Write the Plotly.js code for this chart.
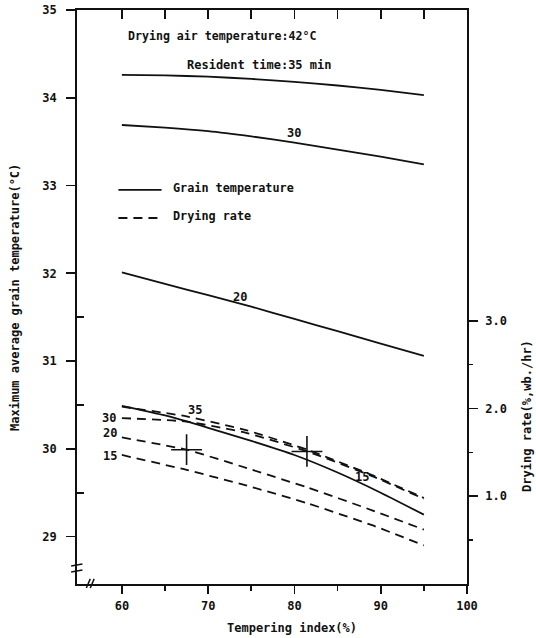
<!DOCTYPE html>
<html>
<head>
<meta charset="utf-8">
<script src="https://cdn.plot.ly/plotly-3.0.1.min.js"></script>
<style>html,body{margin:0;padding:0;background:#fff;}#chart{width:536px;height:638px;}</style>
</head>
<body>
<div id="chart"></div>
<script>
// Tempering index (%) for grain temperature curves
const tempIndex = [60, 65, 70, 75, 80, 85, 90, 95];
// Maximum average grain temperature (°C), by resident time (min)
const gt35 = [34.26, 34.255, 34.24, 34.215, 34.18, 34.14, 34.09, 34.03];
const gt30 = [33.69, 33.66, 33.62, 33.56, 33.49, 33.41, 33.33, 33.24];
const gt20 = [32.01, 31.88, 31.75, 31.62, 31.48, 31.34, 31.20, 31.06];
const gt15 = [30.49, 30.38, 30.24, 30.09, 29.93, 29.73, 29.50, 29.25];

// Tempering index (%) for drying rate curves
const rateIndex = [60, 67.5, 74.5, 81.5, 89, 95];
// Drying rate (%, wb./hr), by resident time (min)
const dr35 = [2.02, 1.91, 1.75, 1.53, 1.24, 0.98];
const dr30 = [1.89, 1.85, 1.72, 1.51, 1.23, 0.97];
const dr20 = [1.67, 1.53, 1.32, 1.10, 0.84, 0.62];
const dr15 = [1.47, 1.30, 1.12, 0.92, 0.67, 0.44];

// Cross marks
const crossX = [67.5, 81.45];
const crossY = [29.99, 29.97];

// Tick labels
const xTicks = [60, 70, 80, 90, 100];
const xMinor = [65, 75, 85, 95];
const xTopTicks = [60, 65, 70, 75, 80, 85, 90, 95];
const yTicks = [29, 30, 31, 32, 33, 34, 35];
const yMinor = [29.5, 30.5, 31.5];
const y2Ticks = [1, 2, 3];
const y2Labels = ['1.0', '2.0', '3.0'];
const y2Minor = [0.5, 1.5, 2.5];

const FONT = 'DejaVu Sans Mono';
const INK = '#111';
const DASH = '9px,6px';

function solid(x, y) {
  return {x: x, y: y, type: 'scatter', mode: 'lines', xaxis: 'x', yaxis: 'y',
    line: {color: INK, width: 1.8, shape: 'spline', smoothing: 0.5}, hoverinfo: 'skip'};
}
function dashed(x, y) {
  return {x: x, y: y, type: 'scatter', mode: 'lines', xaxis: 'x', yaxis: 'y2',
    line: {color: INK, width: 1.8, dash: DASH, shape: 'spline', smoothing: 0.5}, hoverinfo: 'skip'};
}

const data = [
  solid(tempIndex, gt35), solid(tempIndex, gt30), solid(tempIndex, gt20), solid(tempIndex, gt15),
  dashed(rateIndex, dr35), dashed(rateIndex, dr30), dashed(rateIndex, dr20), dashed(rateIndex, dr15),
  {x: crossX, y: crossY, type: 'scatter', mode: 'markers', xaxis: 'x', yaxis: 'y',
   marker: {symbol: 'cross-thin', size: 22, color: INK, line: {color: INK, width: 1.6}}, hoverinfo: 'skip'},
  {x: [xTopTicks[0]], y: [yTicks[0]], type: 'scatter', mode: 'markers', xaxis: 'x2', yaxis: 'y',
   marker: {opacity: 0}, hoverinfo: 'skip'}
];

const xr = [54.8, 100];
const annFont = {family: FONT, size: 12, color: INK, weight: 'bold'};
function lab(text, x, y, anchor, size) {
  return {text: text, x: x, y: y, xref: 'x', yref: 'y', showarrow: false,
    xanchor: anchor || 'center', yanchor: 'middle',
    font: {family: FONT, size: size || 12, color: INK, weight: 'bold'}};
}

const layout = {
  width: 536, height: 638,
  margin: {l: 77, r: 69, t: 10, b: 54},
  paper_bgcolor: '#fff', plot_bgcolor: '#fff',
  showlegend: false,
  font: {family: FONT, size: 12, color: INK, weight: 'bold'},
  xaxis: {
    range: xr, showgrid: false, zeroline: false, showline: true, linecolor: INK, linewidth: 1.8,
    tickmode: 'array', tickvals: xTicks, ticks: 'outside', ticklen: 8, tickwidth: 1.6, tickcolor: INK,
    tickfont: {family: FONT, size: 12, color: INK, weight: 'bold'}, ticklabelstandoff: 2,
    minor: {tickmode: 'array', tickvals: xMinor, ticks: 'outside', ticklen: 5, tickwidth: 1.6, tickcolor: INK}
  },
  xaxis2: {
    range: xr, overlaying: 'x', side: 'top', anchor: 'y', showgrid: false, zeroline: false,
    showline: true, linecolor: INK, linewidth: 1.8,
    tickmode: 'array', tickvals: xTopTicks, ticks: 'inside', ticklen: 9, tickwidth: 1.6, tickcolor: INK,
    showticklabels: false
  },
  yaxis: {
    range: [28.46, 35], showgrid: false, zeroline: false, showline: true, linecolor: INK, linewidth: 1.8,
    tickmode: 'array', tickvals: yTicks, ticks: 'outside', ticklen: 9, tickwidth: 1.6, tickcolor: INK,
    tickfont: {family: FONT, size: 12, color: INK, weight: 'bold'}, ticklabelstandoff: 7,
    minor: {tickmode: 'array', tickvals: yMinor, ticks: 'inside', ticklen: 7, tickwidth: 1.6, tickcolor: INK}
  },
  yaxis2: {
    range: [0, 6.54], overlaying: 'y', side: 'right', anchor: 'x', showgrid: false, zeroline: false,
    showline: true, linecolor: INK, linewidth: 1.8,
    tickmode: 'array', tickvals: y2Ticks, ticktext: y2Labels, ticks: 'outside', ticklen: 9, tickwidth: 1.6, tickcolor: INK,
    tickfont: {family: FONT, size: 12, color: INK, weight: 'bold'}, ticklabelstandoff: 5,
    minor: {tickmode: 'array', tickvals: y2Minor, ticks: 'outside', ticklen: 4, tickwidth: 1.6, tickcolor: INK}
  },
  shapes: [
    // legend samples
    {type: 'line', xref: 'x', yref: 'y', x0: 59.6, x1: 64.6, y0: 32.95, y1: 32.95, line: {color: INK, width: 1.8}},
    {type: 'line', xref: 'x', yref: 'y', x0: 59.6, x1: 64.6, y0: 32.63, y1: 32.63, line: {color: INK, width: 1.8, dash: DASH}},
    // axis break marks
    {type: 'line', xref: 'paper', yref: 'paper', x0: -0.015, x1: 0.014, y0: 0.0315, y1: 0.0350, line: {color: INK, width: 1.5}},
    {type: 'line', xref: 'paper', yref: 'paper', x0: -0.015, x1: 0.014, y0: 0.0210, y1: 0.0245, line: {color: INK, width: 1.5}},
    {type: 'line', xref: 'paper', yref: 'paper', x0: 0.024, x1: 0.034, y0: -0.007, y1: 0.009, line: {color: INK, width: 1.5}},
    {type: 'line', xref: 'paper', yref: 'paper', x0: 0.034, x1: 0.044, y0: -0.007, y1: 0.009, line: {color: INK, width: 1.5}}
  ],
  annotations: [
    lab('Drying air temperature:42°C', 60.51, 34.70, 'left', 11.6),
    lab('Resident time:35 min', 67.35, 34.37, 'left', 12),
    lab('30', 80.0, 33.60),
    lab('20', 73.74, 31.73),
    lab('35', 68.5, 30.44),
    lab('30', 58.55, 30.35),
    lab('20', 58.6, 30.18),
    lab('15', 58.6, 29.92),
    lab('15', 87.8, 29.68),
    lab('Grain temperature', 65.73, 32.97, 'left', 11.8),
    lab('Drying rate', 65.73, 32.65, 'left', 11.8),
    {text: 'Maximum average grain temperature(°C)', xref: 'paper', yref: 'paper', x: -0.159, y: 0.5,
     textangle: -90, showarrow: false, xanchor: 'center', yanchor: 'middle', font: annFont},
    {text: 'Drying rate(%,wb./hr)', xref: 'paper', yref: 'paper', x: 1.154, y: 0.293,
     textangle: -90, showarrow: false, xanchor: 'center', yanchor: 'middle', font: annFont},
    {text: 'Tempering index(%)', xref: 'paper', yref: 'paper', x: 0.551, y: -0.0767,
     showarrow: false, xanchor: 'center', yanchor: 'middle', font: annFont}
  ]
};

Plotly.newPlot('chart', data, layout, {staticPlot: true, displayModeBar: false});
</script>
</body>
</html>
